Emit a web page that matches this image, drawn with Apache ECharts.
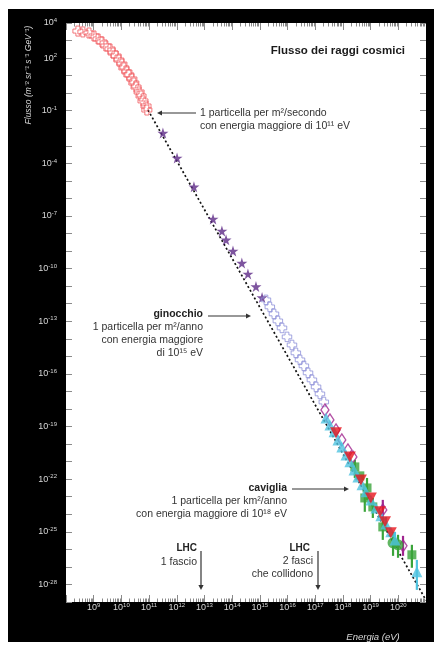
<!DOCTYPE html>
<html><head><meta charset="utf-8">
<script src="https://cdn.jsdelivr.net/npm/echarts@6/dist/echarts.min.js"></script>
<style>html,body{margin:0;padding:0;background:#fff;width:434px;height:646px;overflow:hidden}#c{position:absolute;left:8px;top:9px;width:426px;height:633px}</style>
</head><body><div id="c"></div><script>
// values as [log10 Energy (eV), log10 Flux (m^-2 sr^-1 s^-1 GeV^-1)]
const redCrosses = [[8.43,3.54],[8.61,3.49],[8.83,3.43],[9.01,3.26],[9.16,3.09],[9.30,2.92],[9.44,2.69],[9.59,2.52],[9.70,2.29],[9.81,2.12],[9.91,1.89],[10.02,1.66],[10.09,1.44],[10.20,1.21],[10.27,1.04],[10.38,0.81],[10.45,0.58],[10.53,0.35],[10.64,0.07],[10.71,-0.16],[10.78,-0.44],[10.89,-0.73],[10.92,-0.96]];
const purpleStars = [[11.50,-2.27],[12.01,-3.69],[12.62,-5.34],[13.31,-7.17],[13.63,-7.85],[13.78,-8.36],[14.03,-8.99],[14.35,-9.68],[14.57,-10.30],[14.86,-11.02],[15.08,-11.65]];
const blueCrosses = [[15.22,-11.78],[15.36,-12.18],[15.51,-12.58],[15.65,-12.98],[15.80,-13.38],[15.98,-13.89],[16.16,-14.35],[16.30,-14.80],[16.45,-15.20],[16.59,-15.54],[16.74,-15.94],[16.88,-16.34],[17.03,-16.74],[17.17,-17.14],[17.31,-17.60]];
const magentaDiamonds = [[17.35,-18.05],[17.53,-18.62],[17.75,-19.19],[17.96,-19.76],[18.18,-20.33],[18.36,-20.73],[19.44,-23.75],[20.17,-25.80]];
const cyanTriangles = [[17.39,-18.51],[17.53,-18.91],[17.68,-19.30],[17.82,-19.76],[17.96,-20.16],[18.11,-20.62],[18.25,-21.01],[18.40,-21.47],[18.54,-21.87],[18.69,-22.32],[18.83,-22.72],[19.01,-23.18],[19.19,-23.64],[19.37,-24.09],[19.55,-24.55],[19.73,-25.00],[19.88,-25.46],[20.67,-27.28]];
const redTriangles = [[17.75,-19.36],[18.25,-20.73],[18.65,-22.04],[19.01,-23.07],[19.34,-23.86],[19.52,-24.43],[19.73,-25.06]];
const greenSquares = [[18.43,-21.30],[18.61,-21.81],[18.87,-22.50],[18.79,-23.07],[19.08,-23.58],[19.44,-24.72],[20.49,-26.31]];
const greenCircles = [[19.81,-25.63],[19.99,-25.74]];
// error bars: [log10 E, log10 low, log10 high]
const greenErrors = [[18.43,-21.93,-20.90],[18.87,-23.18,-21.93],[18.79,-23.86,-22.61],[19.08,-24.21,-23.07],[19.44,-25.46,-24.21],[19.81,-26.37,-25.00],[19.99,-26.48,-25.17],[20.49,-27.05,-25.74]];
const cyanErrors = [[20.67,-28.31,-26.60],[19.55,-24.95,-24.15],[19.88,-25.95,-25.0]];
const magentaErrors = [[19.44,-24.32,-23.18],[20.17,-26.37,-25.23]];
const fitLine = [[10.96,-0.96],[21.0,-28.9]];
// axis ticks (exponents)
const xDecades = [8,9,10,11,12,13,14,15,16,17,18,19,20,21];
const xLabelExps = [9,10,11,12,13,14,15,16,17,18,19,20,21];
const minorMantissas = [2,3,4,5,6,7,8,9];
const yDecades = []; for (let e = -29; e <= 4; e++) yDecades.push(e);
const yLabelExps = [4,2,-1,-4,-7,-10,-13,-16,-19,-22,-25,-28];

const pow = e => Math.pow(10, e);
const toXY = a => a.map(p => [pow(p[0]), pow(p[1])]);
const toErr = a => a.map(p => [pow(p[0]), pow(p[1]), pow(p[2])]);
const xMinor = []; xDecades.slice(0, -1).forEach(e => minorMantissas.forEach(m => xMinor.push(m * pow(e))));

const OX = 8, OY = 9;
const FONT = '"Liberation Sans", Arial, sans-serif';
const LBLFONT = '"Liberation Sans Narrow", "Liberation Sans", sans-serif';
const supRich = {b:{fontSize:9, fontFamily:LBLFONT, color:'#d8d8d8', lineHeight:11}, s:{fontSize:6, fontFamily:LBLFONT, color:'#d8d8d8', verticalAlign:'top', lineHeight:11}};
const fmt = v => '{b|10}{s|' + Math.round(Math.log10(v)) + '}';
const tickStyle = {color:'#8a8a8a', width:1};

// ticks drawn outward from an axis line shifted inside the plot by the tick length
function xAx(pos, major) {
  const len = major ? 7 : 3.5;
  return {type:'log', logBase:10, min:pow(8), max:pow(21), position:pos, offset:-len,
    axisLine:{show:false, onZero:false}, splitLine:{show:false},
    axisTick:{show:true, inside:false, length:len, lineStyle:tickStyle, customValues: major ? xDecades.map(pow) : xMinor},
    axisLabel: (major && pos === 'bottom') ? {show:true, customValues:xLabelExps.map(pow), formatter:fmt, rich:supRich, margin:len} : {show:false}};
}
function yAx(pos) {
  const len = 6;
  return {type:'log', logBase:10, min:pow(-29), max:pow(4), position:pos, offset:-len,
    axisLine:{show:false, onZero:false}, splitLine:{show:false},
    axisTick:{show:true, inside:false, length:len, lineStyle:tickStyle, customValues:yDecades.map(pow)},
    axisLabel: pos === 'left' ? {show:true, customValues:yLabelExps.map(pow), formatter:fmt, rich:supRich, margin:9 + len} : {show:false}};
}

function T(txt, x, y, align, bold, size, color) {
  return {type:'text', x:x-OX, y:y-OY, z:10, style:{text:txt, align:align, verticalAlign:'middle', fill:color || '#333', font:(bold ? 'bold ' : '') + size + 'px ' + FONT}};
}
function arrow(x1, y1, x2, y2) {
  const dx = x2-x1, dy = y2-y1, L = Math.hypot(dx, dy), ux = dx/L, uy = dy/L, h = 5, w = 2.6;
  const bx = x2-ux*h, by = y2-uy*h;
  return [{type:'line', z:10, shape:{x1:x1-OX, y1:y1-OY, x2:bx-OX, y2:by-OY}, style:{stroke:'#333', lineWidth:1.2}},
          {type:'polygon', z:10, shape:{points:[[x2-OX, y2-OY], [bx-uy*w-OX, by+ux*w-OY], [bx+uy*w-OX, by-ux*w-OY]]}, style:{fill:'#333'}}];
}
function errSeries(data, color) {
  return {type:'custom', data:toErr(data), encode:{x:0, y:[1,2]}, z:3,
    renderItem:(params, api) => {
      const a = api.coord([api.value(0), api.value(1)]), b = api.coord([api.value(0), api.value(2)]);
      return {type:'line', shape:{x1:a[0], y1:a[1], x2:b[0], y2:b[1]}, style:{stroke:color, lineWidth:2.2}};
    }};
}
const crossPath = 'path://M3,0L7,0L7,3L10,3L10,7L7,7L7,10L3,10L3,7L0,7L0,3L3,3Z';
const starPath = 'path://M50,0L61,35L98,35L68,57L79,91L50,70L21,91L32,57L2,35L39,35Z';

const graphics = [].concat(
  [{type:'text', x:29-OX, y:75-OY, rotation:Math.PI/2, style:{text:'Flusso (m⁻² sr⁻¹ s⁻¹ GeV⁻¹)', align:'center', verticalAlign:'middle', fill:'#d8d8d8', font:'italic 8.5px ' + FONT}},
   {type:'text', x:373-OX, y:637-OY, style:{text:'Energia (eV)', align:'center', verticalAlign:'middle', fill:'#d8d8d8', font:'italic 9.5px ' + FONT}},
   T('Flusso dei raggi cosmici', 405, 51, 'right', true, 11.5, '#1a1a1a'),
   T('1 particella per m²/secondo', 200, 113, 'left', false, 10.5),
   T('con energia maggiore di 10¹¹ eV', 200, 126, 'left', false, 10.5),
   T('ginocchio', 203, 314, 'right', true, 10.5, '#222'),
   T('1 particella per m²/anno', 203, 327, 'right', false, 10.5),
   T('con energia maggiore', 203, 340, 'right', false, 10.5),
   T('di 10¹⁵ eV', 203, 353, 'right', false, 10.5),
   T('caviglia', 287, 488, 'right', true, 10.5, '#222'),
   T('1 particella per km²/anno', 287, 501, 'right', false, 10.5),
   T('con energia maggiore di 10¹⁸ eV', 287, 514, 'right', false, 10.5),
   T('LHC', 197, 548, 'right', true, 10, '#222'),
   T('1 fascio', 197, 562, 'right', false, 10.5),
   T('LHC', 310, 548, 'right', true, 10, '#222'),
   T('2 fasci', 313, 561, 'right', false, 10.5),
   T('che collidono', 313, 574, 'right', false, 10.5)],
  arrow(196, 113, 157, 113),
  arrow(208, 316, 251, 316),
  arrow(292, 489, 349, 489),
  arrow(201, 551, 201, 590),
  arrow(318, 551, 318, 590)
);

const chart = echarts.init(document.getElementById('c'), null, {renderer:'canvas'});
chart.setOption({
  animation:false,
  backgroundColor:'#000',
  grid:{left:58, top:14, right:8, bottom:40, show:true, backgroundColor:'#fff', borderWidth:0},
  xAxis:[xAx('bottom', true), xAx('bottom', false), xAx('top', true), xAx('top', false)],
  yAxis:[yAx('left'), yAx('right')],
  graphic:graphics,
  series:[
    {type:'line', data:toXY(fitLine), symbol:'none', z:1, lineStyle:{color:'#111', width:1.7, type:[2,2.4]}},
    {type:'scatter', data:toXY(redCrosses), symbol:crossPath, symbolSize:10, z:2, itemStyle:{color:'rgba(255,255,255,0)', borderColor:'#f0585c', borderWidth:1}},
    {type:'scatter', data:toXY(purpleStars), symbol:starPath, symbolSize:11, z:2, itemStyle:{color:'#5e2a87'}},
    {type:'scatter', data:toXY(blueCrosses), symbol:crossPath, symbolSize:9.5, z:2, itemStyle:{color:'rgba(255,255,255,0)', borderColor:'#8d90d8', borderWidth:1}},
    errSeries(magentaErrors, '#a0268f'),
    {type:'scatter', data:toXY(magentaDiamonds), symbol:'diamond', symbolSize:[8,12], z:3, itemStyle:{color:'rgba(255,255,255,0)', borderColor:'#a0268f', borderWidth:1.4}},
    errSeries(greenErrors, '#3aa43a'),
    {type:'scatter', data:toXY(greenSquares), symbol:'rect', symbolSize:9, z:4, itemStyle:{color:'#3aa43a'}},
    {type:'scatter', data:toXY(greenCircles), symbol:'circle', symbolSize:11, z:4, itemStyle:{color:'#3aa43a'}},
    errSeries(cyanErrors, '#4fc3e0'),
    {type:'scatter', data:toXY(cyanTriangles), symbol:'triangle', symbolSize:11, z:5, itemStyle:{color:'#4fc3e0'}},
    {type:'scatter', data:toXY(redTriangles), symbol:'triangle', symbolRotate:180, symbolSize:[12,11], z:6, itemStyle:{color:'#e8141c'}}
  ]
});
</script></body></html>
